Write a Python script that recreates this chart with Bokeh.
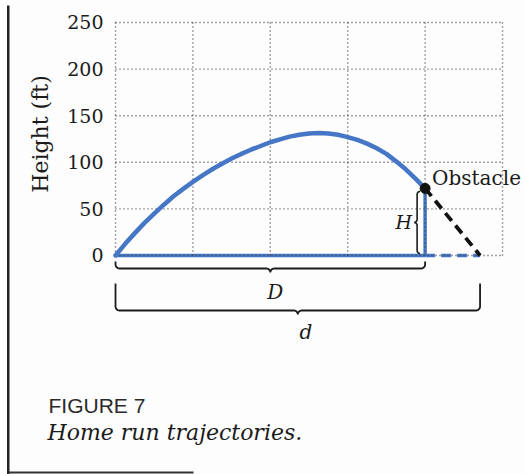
import numpy as np
from bokeh.plotting import figure
from bokeh.models import Range1d, Label, BoxAnnotation
from bokeh.core.properties import value
from bokeh.embed import file_html
from bokeh.resources import INLINE

# Ball flight: horizontal distance from home plate and height, in feet
dist_ft = [0, 12.5, 25, 37.5, 50, 62.5, 75, 87.5, 100, 112.5, 125, 137.5, 150,
           162.5, 175, 187.5, 200, 212.5, 225, 237.5, 250, 262.5, 275, 287.5,
           300, 312.5, 325, 337.5, 350, 362.5, 375, 387.5, 400]
height_ft = [0, 12.5, 24, 35, 45, 54.5, 63.5, 71.5, 79, 86, 92.5, 98.5, 104,
             109, 113.5, 117.5, 121.5, 124.5, 127.5, 129.5, 131, 131.5, 131, 129.5,
             127, 124, 120, 115, 109, 101, 92.5, 82.5, 72]

obstacle_dist = 400   # D: distance to the obstacle
obstacle_height = 72  # H: height at which the ball meets the obstacle
landing_dist = 471    # d: where the ball would have landed

y_ticks = [0, 50, 100, 150, 200, 250]
y_tick_labels = ["0", "50", "100", "150", "200", "250"]
x_grid = [0, 100, 200, 300, 400, 500]

# ---- canvas / scales -------------------------------------------------------
W, HGT = 525, 474
X_START, X_END = -148.6, 529.7
Y_START, Y_END = -235.0, 273.6
kx = W / (X_END - X_START)      # pixels per foot (x)
ky = HGT / (Y_END - Y_START)    # pixels per foot (y)


def px_x(px):
    return px / kx


def px_y(px):
    return px / ky


BLUE = "#4676c6"
INK = "#1b1b1b"
GRID = "#444444"
SERIF = "DejaVu Serif"
BG = "#fdfdfd"

p = figure(width=W, height=HGT, x_range=Range1d(X_START, X_END),
           y_range=Range1d(Y_START, Y_END), output_backend="svg",
           toolbar_location=None, x_axis_location=None, y_axis_location=None,
           min_border_left=0, min_border_right=0, min_border_top=0,
           min_border_bottom=0)
p.outline_line_color = None
p.background_fill_color = BG
p.border_fill_color = BG
p.xgrid.grid_line_color = None
p.ygrid.grid_line_color = None

# ---- height scale: tick labels and title -------------------------------------
p.text(x=[0] * len(y_ticks), y=y_ticks, text=y_tick_labels, x_offset=-12,
       text_font=value(SERIF), text_font_size="19px", text_color=INK,
       text_align="right", text_baseline="middle")
p.text(x=[0], y=[(y_ticks[0] + y_ticks[-1]) / 2 + px_y(5)], text=["Height (ft)"],
       x_offset=-75, angle=np.pi / 2, text_font=value(SERIF),
       text_font_size="22px", text_color=INK, text_align="center",
       text_baseline="middle")

# ---- ground and obstacle wall (blue) ---------------------------------------
p.line([0, obstacle_dist], [0, 0], line_color=BLUE, line_width=3.5)
p.line([obstacle_dist, landing_dist], [0, 0], line_color=BLUE, line_width=3.5,
       line_dash="10 6")
p.line([obstacle_dist, obstacle_dist], [0, obstacle_height], line_color=BLUE,
       line_width=3.5)

# ---- dotted grid -----------------------------------------------------------
p.segment(x0=x_grid, y0=[0] * len(x_grid), x1=x_grid, y1=[y_ticks[-1]] * len(x_grid),
          line_color=GRID, line_width=1.4, line_dash="1 3")
p.segment(x0=[x_grid[0]] * len(y_ticks), y0=y_ticks, x1=[x_grid[-1]] * len(y_ticks),
          y1=y_ticks, line_color=GRID, line_width=1.4, line_dash="1 3")

# ---- trajectory ------------------------------------------------------------
p.line(dist_ft, height_ft, line_color=BLUE, line_width=4.5, line_join="round",
       line_cap="round")

# continuation past the obstacle
p.line([obstacle_dist, landing_dist], [obstacle_height, 0], line_color="#111111",
       line_width=3.8, line_dash="10 6")
p.scatter([obstacle_dist], [obstacle_height], size=10, color="#111111")


# ---- braces ----------------------------------------------------------------
def arc(cx, cy, rx, ry, a0, a1, n=8):
    t = np.linspace(a0, a1, n)
    return list(cx + rx * np.cos(t)), list(cy + ry * np.sin(t))


def h_bracket(x0, x1, y_end, y_bar, r_px=4):
    """Bracket under a span [x0, x1]: ends at y_end, bar at y_bar, tip below."""
    rx, ry = px_x(r_px), px_y(r_px)
    xm = (x0 + x1) / 2
    xs, ys = [x0], [y_end]
    for (cx, cy, a0, a1) in [(x0 + rx, y_bar + ry, np.pi, 1.5 * np.pi),
                             (xm - rx, y_bar - ry, 0.5 * np.pi, 0.0),
                             (xm + rx, y_bar - ry, np.pi, 0.5 * np.pi),
                             (x1 - rx, y_bar + ry, -0.5 * np.pi, 0.0)]:
        ax, ay = arc(cx, cy, rx, ry, a0, a1)
        xs += ax
        ys += ay
    xs.append(x1)
    ys.append(y_end)
    return xs, ys


def v_brace(x_line, y0, y1, r_px=3):
    """Curly brace along [y0, y1], pointing left, hooks opening right."""
    rx, ry = px_x(r_px), px_y(r_px)
    ym = (y0 + y1) / 2
    xs, ys = [], []
    for (cx, cy, a0, a1) in [(x_line + rx, y1 - ry, 0.5 * np.pi, np.pi),
                             (x_line - rx, ym + ry, 0.0, -0.5 * np.pi),
                             (x_line - rx, ym - ry, 0.5 * np.pi, 0.0),
                             (x_line + rx, y0 + ry, np.pi, 1.5 * np.pi)]:
        ax, ay = arc(cx, cy, rx, ry, a0, a1)
        xs += ax
        ys += ay
    return xs, ys


bx, by = h_bracket(0, obstacle_dist, -px_y(6), -px_y(13))
p.line(bx, by, line_color=INK, line_width=1.8)
bx, by = h_bracket(0, landing_dist, -px_y(28), -px_y(55))
p.line(bx, by, line_color=INK, line_width=1.8)
bx, by = v_brace(obstacle_dist - px_x(8), px_y(2), obstacle_height - px_y(3))
p.line(bx, by, line_color=INK, line_width=1.6)

# ---- labels on the drawing --------------------------------------------------
p.text(x=[obstacle_dist], y=[obstacle_height], text=["Obstacle"], x_offset=7,
       y_offset=-10, text_font=value(SERIF), text_font_size="20px",
       text_color=INK, text_align="left", text_baseline="middle")
p.text(x=[obstacle_dist / 2], y=[0], text=["D"], x_offset=5, y_offset=37,
       text_font=value(SERIF), text_font_style="italic", text_font_size="20px",
       text_color=INK, text_align="center", text_baseline="middle")
p.text(x=[landing_dist / 2], y=[0], text=["d"], x_offset=8, y_offset=77,
       text_font=value(SERIF), text_font_style="italic", text_font_size="20px",
       text_color=INK, text_align="center", text_baseline="middle")
p.text(x=[obstacle_dist], y=[obstacle_height / 2], text=["H"], x_offset=-13,
       text_font=value(SERIF), text_font_style="italic", text_font_size="19px",
       text_color=INK, text_align="right", text_baseline="middle")

# ---- figure caption and page rules ------------------------------------------
p.add_layout(Label(x=48, y=58, x_units="screen", y_units="screen",
                   text="FIGURE 7", text_font="Liberation Sans",
                   text_font_size="21px", text_color="#2a2a2a"))
p.add_layout(Label(x=47, y=30, x_units="screen", y_units="screen",
                   text="Home run trajectories.", text_font=SERIF,
                   text_font_style="italic", text_font_size="22px",
                   text_color=INK))
p.add_layout(BoxAnnotation(left=6.5, right=9, bottom=0, top=469,
                           left_units="screen", right_units="screen",
                           bottom_units="screen", top_units="screen",
                           fill_color="#222222", fill_alpha=1.0, line_color=None))
p.add_layout(BoxAnnotation(left=8, right=193, bottom=1, top=3,
                           left_units="screen", right_units="screen",
                           bottom_units="screen", top_units="screen",
                           fill_color="#333333", fill_alpha=1.0, line_color=None))

open("out.html", "w").write(file_html(p, INLINE))
